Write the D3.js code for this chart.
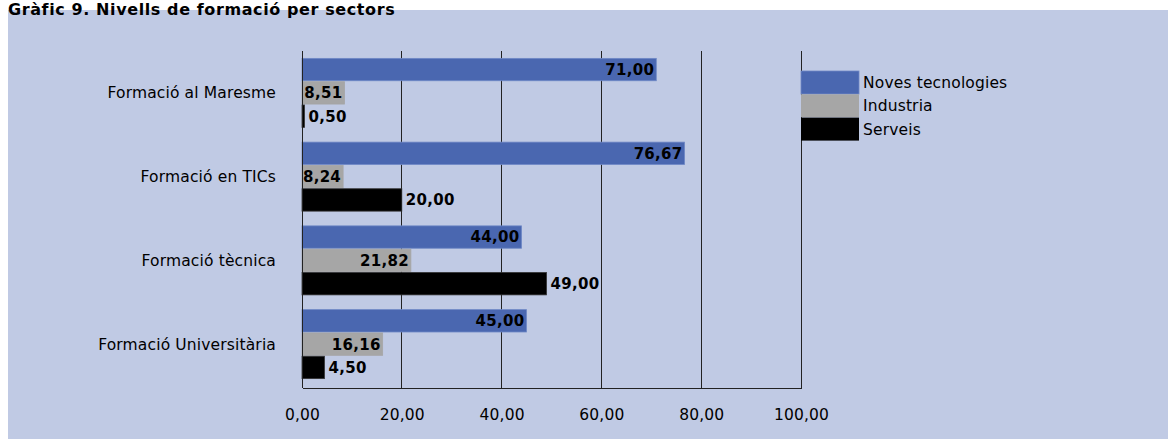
<!DOCTYPE html>
<html>
<head>
<meta charset="utf-8">
<script src="https://cdn.jsdelivr.net/npm/d3@7"></script>
<style>
  html, body { margin: 0; padding: 0; background: #ffffff; }
  svg { display: block; }
  text { font-family: "DejaVu Sans", Verdana, sans-serif; fill: #000; }
</style>
</head>
<body>
<svg id="chart" width="1168" height="439"></svg>
<script>
// Categories (top to bottom) and series
const categories = ["Formació al Maresme", "Formació en TICs", "Formació tècnica", "Formació Universitària"];
const seriesNames = ["Noves tecnologies", "Industria", "Serveis"];
const novesTecnologies = [71.00, 76.67, 44.00, 45.00];
const industria = [8.51, 8.24, 21.82, 16.16];
const serveis = [0.50, 20.00, 49.00, 4.50];
const xTicks = [0, 20, 40, 60, 80, 100];
const titleText = "Gràfic 9. Nivells de formació per sectors";

const seriesValues = [novesTecnologies, industria, serveis];
const colors = ["#4a67b0", "#a6a6a6", "#000000"];
const strokes = ["#6f88c6", "#a6a6a6", "#333333"];

const fmt = v => d3.format(".2f")(v).replace(".", ",");
const labelSize = "15.5px";
const labelSpacing = "0.15px";

const svg = d3.select("#chart");

// Chart panel
svg.append("rect")
  .attr("x", 8).attr("y", 10)
  .attr("width", 1160).attr("height", 429)
  .attr("fill", "#c0cae4");

// Title along the top edge
svg.append("text")
  .attr("x", 8).attr("y", 15)
  .style("font-size", "16px").style("font-weight", "bold")
  .style("letter-spacing", "0.6px")
  .text(titleText);

const plot = { left: 302, right: 801, top: 51, bottom: 386, axisY: 388, gridTop: 51 };

const x = d3.scaleLinear().domain([0, 100]).range([plot.left, plot.right]);
const y0 = d3.scaleBand().domain(categories).range([plot.top, plot.bottom]).padding(0);
const groupPad = (y0.bandwidth() - 69) / 2;
const y1 = d3.scaleBand().domain(seriesNames)
  .range([groupPad, groupPad + 69]).paddingInner(0.04);

// Vertical gridlines
svg.append("g").selectAll("line")
  .data(xTicks.filter(t => t > 0))
  .join("line")
  .attr("x1", d => x(d)).attr("x2", d => x(d))
  .attr("y1", plot.gridTop).attr("y2", plot.axisY)
  .attr("stroke", "#222").attr("stroke-width", 1)
  .attr("shape-rendering", "crispEdges");

// Bars
const rows = [];
categories.forEach((c, i) => {
  seriesNames.forEach((s, j) => {
    rows.push({ cat: c, series: s, si: j, value: seriesValues[j][i] });
  });
});

const bars = svg.append("g");
bars.selectAll("rect")
  .data(rows)
  .join("rect")
  .attr("x", x(0))
  .attr("y", d => y0(d.cat) + y1(d.series))
  .attr("width", d => x(d.value) - x(0))
  .attr("height", y1.bandwidth())
  .attr("fill", d => colors[d.si])
  .attr("stroke", d => strokes[d.si])
  .attr("stroke-width", 0.8);

// Value labels: inside end for the first two series, outside end for the third
bars.selectAll("text")
  .data(rows)
  .join("text")
  .attr("x", d => d.si === 2 ? x(d.value) + 4 : x(d.value) - 2)
  .attr("y", d => y0(d.cat) + y1(d.series) + y1.bandwidth() / 2)
  .attr("dy", "0.36em")
  .attr("text-anchor", d => d.si === 2 ? "start" : "end")
  .style("font-size", "15px").style("font-weight", "bold")
  .style("letter-spacing", "0.3px")
  .text(d => fmt(d.value));

// Axes
const xAxis = d3.axisBottom(x).tickValues(xTicks).tickFormat(fmt).tickSize(0).tickPadding(0);
const gx = svg.append("g").attr("transform", `translate(0,${plot.axisY})`).call(xAxis);
gx.select(".domain").attr("stroke", "#222").attr("shape-rendering", "crispEdges");
gx.selectAll(".tick text")
  .attr("y", 26).attr("dy", "0.36em")
  .style("font-size", labelSize)
  .style("letter-spacing", labelSpacing)
  .style("font-family", "'DejaVu Sans', Verdana, sans-serif")
  .attr("fill", "#000");

const yAxis = d3.axisLeft(y0).tickSize(0).tickPadding(26);
const gy = svg.append("g").attr("transform", `translate(${plot.left},0)`).call(yAxis);
gy.select(".domain").attr("d", `M0,${plot.gridTop}V${plot.axisY}`)
  .attr("stroke", "#222").attr("shape-rendering", "crispEdges");
gy.selectAll(".tick text")
  .attr("dy", "0.36em")
  .style("font-size", labelSize)
  .style("letter-spacing", labelSpacing)
  .style("font-family", "'DejaVu Sans', Verdana, sans-serif")
  .attr("fill", "#000");

// Legend
const legend = svg.append("g").attr("transform", "translate(801,71)");
const lg = legend.selectAll("g")
  .data(seriesNames)
  .join("g")
  .attr("transform", (d, i) => `translate(0,${i * 23.3})`);
lg.append("rect")
  .attr("width", 58).attr("height", 23)
  .attr("fill", (d, i) => colors[i])
  .attr("stroke", (d, i) => i === 0 ? "#6f88c6" : "none")
  .attr("stroke-width", 0.8);
lg.append("text")
  .attr("x", 62).attr("y", 11.5).attr("dy", "0.36em")
  .style("font-size", labelSize)
  .style("letter-spacing", labelSpacing)
  .text(d => d);
</script>
</body>
</html>
